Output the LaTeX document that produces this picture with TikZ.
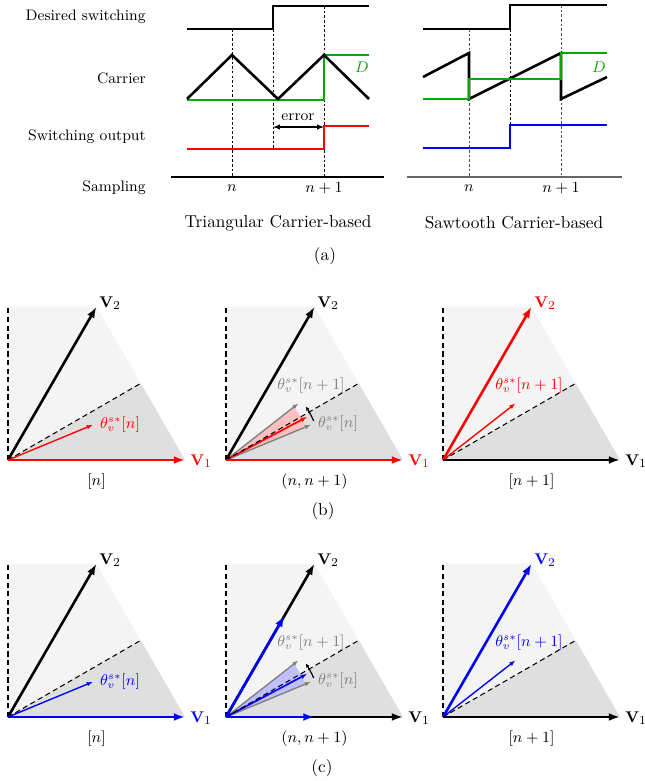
\documentclass[tikz,border=0pt]{standalone}
\usetikzlibrary{arrows.meta,calc}
\definecolor{mygreen}{RGB}{0,170,0}
\definecolor{lightfill}{RGB}{244,244,244}
\definecolor{darkfill}{RGB}{223,223,223}
\newcommand\sectorbg[1]{%
  \coordinate (#1O) at (0,0);
  \coordinate (#1A) at (177,0);
  \coordinate (#1B) at (60:177);
  \coordinate (#1T) at (0,153.3);
  \coordinate (#1M) at (30:153.3);
  \fill[lightfill] (#1O) -- (#1T) -- (#1B) -- (#1A) -- cycle;
  \fill[darkfill] (#1O) -- (#1M) -- (#1A) -- cycle;
  \draw[vdash] (#1O) -- (#1T);
}
\begin{document}
\begin{tikzpicture}[x=0.58pt,y=-0.58pt,
  wave/.style={line width=1.5pt},
  guide/.style={line width=0.5pt, dash pattern=on 1.5pt off 1.2pt},
  lbl/.style={font=\fontsize{8.8}{10}\selectfont, inner sep=0pt},
  captxt/.style={font=\fontsize{10}{12}\selectfont, inner sep=0pt},
  vdash/.style={line width=0.6pt, dash pattern=on 3pt off 2pt},
  varrow/.style={line width=1.5pt, -{Latex[length=6.5pt,width=4.6pt]}},
  tharrow/.style={line width=0.8pt, -{Latex[length=3.6pt,width=2.6pt]}},
  garrow/.style={line width=0.8pt, black!50, -{Latex[length=3.6pt,width=2.6pt]}},
  vlab/.style={font=\fontsize{9.5}{11}\selectfont, inner sep=0pt},
  thlab/.style={font=\fontsize{8.8}{10}\selectfont, inner sep=0pt},
  sublab/.style={font=\fontsize{9.5}{11}\selectfont, inner sep=0pt},
  ticka/.style={line width=0.7pt, -{Latex[length=2.5pt,width=2.2pt]}}
]
\useasboundingbox (0,0) rectangle (644,781);

% ---------------- (a) labels
\node[lbl, anchor=east] (l1) at (146,17) {Desired switching};
\node[lbl, anchor=east] (l2) at (146,78) {Carrier};
\node[lbl, anchor=east] (l3) at (146,137) {Switching output};
\node[lbl, anchor=east] (l4) at (146,188) {Sampling};

% ---------------- (a) left: triangular
\coordinate (ta1) at (232,29); \coordinate (ta2) at (232,177);
\coordinate (tb1) at (273,29); \coordinate (tb2) at (273,150);
\coordinate (tc1) at (324,6);  \coordinate (tc2) at (324,177);
\draw[guide] (ta1) -- (ta2);
\draw[guide] (tb1) -- (tb2);
\draw[guide] (tc1) -- (tc2);
\coordinate (tax1) at (171,177); \coordinate (tax2) at (384,177);
\draw[line width=0.6pt] (tax1) -- (tax2);

\coordinate (d0) at (187,29); \coordinate (d1) at (273,29);
\coordinate (d2) at (273,6);  \coordinate (d3) at (369,6);
\draw[wave] (d0) -- (d1) -- (d2) -- (d3);

\coordinate (g0) at (187,100); \coordinate (g1) at (324,100);
\coordinate (g2) at (324,55);  \coordinate (g3) at (369,55);
\draw[wave, mygreen] (g0) -- (g1) -- (g2) -- (g3);
\coordinate (c0) at (187,99); \coordinate (c1) at (232,55);
\coordinate (c2) at (278,99); \coordinate (c3) at (324,55);
\coordinate (c4) at (369,99);
\draw[wave, line join=miter] (c0) -- (c1) -- (c2) -- (c3) -- (c4);
\node[lbl, mygreen] (dl) at (362,67) {$D$};

\coordinate (r0) at (187,149); \coordinate (r1) at (324,149);
\coordinate (r2) at (324,126); \coordinate (r3) at (369,126);
\draw[wave, red] (r0) -- (r1) -- (r2) -- (r3);

\coordinate (e1) at (273,127); \coordinate (e2) at (324,127);
\draw[line width=0.7pt, {Latex[length=4pt,width=3.2pt]}-{Latex[length=4pt,width=3.2pt]}] (e1) -- (e2);
\node[lbl] (err) at (298,117) {error};

\node[lbl] (tn) at (232,188) {$n$};
\node[lbl] (tn1) at (324,188) {$n+1$};
\node[captxt] (capt) at (278,223) {Triangular Carrier-based};

% ---------------- (a) right: sawtooth
\coordinate (sa1) at (469,29); \coordinate (sa2) at (469,177);
\coordinate (sb1) at (510,29); \coordinate (sb2) at (510,125);
\coordinate (sc1) at (561,5);  \coordinate (sc2) at (561,177);
\draw[guide, black!70] (sa1) -- (sa2);
\draw[guide] (sb1) -- (sb2);
\draw[guide, black!70] (sc1) -- (sc2);
\coordinate (sax1) at (407,177); \coordinate (sax2) at (622,177);
\draw[line width=0.8pt, black!60] (sax1) -- (sax2);

\coordinate (sd0) at (423,29); \coordinate (sd1) at (510,29);
\coordinate (sd2) at (510,5);  \coordinate (sd3) at (607,5);
\draw[wave] (sd0) -- (sd1) -- (sd2) -- (sd3);

\coordinate (s0) at (423,77); \coordinate (s1) at (469,53);
\coordinate (s2) at (469,99); \coordinate (s3) at (561,53);
\coordinate (s4) at (561,99); \coordinate (s5) at (607,77);
\draw[wave] (s0) -- (s1) -- (s2) -- (s3) -- (s4) -- (s5);
\coordinate (sg0) at (423,99); \coordinate (sg1) at (469,99);
\coordinate (sg2) at (469,79); \coordinate (sg3) at (561,79);
\coordinate (sg4) at (561,53); \coordinate (sg5) at (607,53);
\draw[wave, mygreen] (sg0) -- (sg1) -- (sg2) -- (sg3) -- (sg4) -- (sg5);
\node[lbl, mygreen] (sdl) at (599,67) {$D$};

\coordinate (b0) at (423,148); \coordinate (b1) at (510,148);
\coordinate (b2) at (510,125); \coordinate (b3) at (607,125);
\draw[wave, blue] (b0) -- (b1) -- (b2) -- (b3);

\node[lbl] (sn) at (469,188) {$n$};
\node[lbl] (sn1) at (561,188) {$n+1$};
\node[captxt] (caps) at (514,223) {Sawtooth Carrier-based};
\node[captxt] (capa) at (325,256) {(a)};

% ================= (b) row
\begin{scope}[shift={(8,460)},yscale=-1]
  \sectorbg{p1}
  \draw[vdash] (p1O) -- (p1M);
  \coordinate (p1t) at (22.5:92);
  \draw[tharrow, red] (p1O) -- (p1t);
  \draw[varrow] (p1O) -- (p1B);
  \draw[varrow, red] (p1O) -- (p1A);
  \node[vlab, anchor=west] (p1v2) at (91,157) {$\mathbf{V}_2$};
  \node[vlab, anchor=west, red] (p1v1) at (182,-1) {$\mathbf{V}_1$};
  \node[thlab, red] (p1th) at (112,35) {$\theta_v^{s*}[n]$};
  \node[sublab] (p1s) at (88.5,-22) {$[n]$};
\end{scope}

\begin{scope}[shift={(226,460)},yscale=-1]
  \sectorbg{p2}
  \fill[red!25] (p2O) -- (38:86) arc[start angle=38, end angle=22.5, radius=86] -- cycle;
  \coordinate (p2g1) at (38:92);
  \coordinate (p2g2) at (22.5:92);
  \coordinate (p2t) at (28:92);
  \draw[garrow] (p2O) -- (p2g1);
  \draw[garrow] (p2O) -- (p2g2);
  \draw[line width=1pt, red, -{Latex[length=3.8pt,width=2.8pt]}] (p2O) -- (p2t);
  \draw[vdash] (p2O) -- (p2M);
  \draw[ticka] (24:96) arc[start angle=24, end angle=34, radius=96];
  \draw[varrow] (p2O) -- (p2B);
  \draw[varrow, red] (p2O) -- (p2A);
  \node[vlab, anchor=west] (p2v2) at (91,157) {$\mathbf{V}_2$};
  \node[vlab, anchor=west, red] (p2v1) at (182,-1) {$\mathbf{V}_1$};
  \node[thlab, black!50] (p2th1) at (85,74) {$\theta_v^{s*}[n+1]$};
  \node[thlab, black!50] (p2th0) at (112,36) {$\theta_v^{s*}[n]$};
  \node[sublab] (p2s) at (88.5,-22) {$(n,n+1)$};
\end{scope}

\begin{scope}[shift={(443,460)},yscale=-1]
  \sectorbg{p3}
  \draw[vdash] (p3O) -- (p3M);
  \coordinate (p3t) at (38:92);
  \draw[tharrow, red] (p3O) -- (p3t);
  \draw[varrow, red] (p3O) -- (p3B);
  \draw[varrow] (p3O) -- (p3A);
  \node[vlab, anchor=west, red] (p3v2) at (91,157) {$\mathbf{V}_2$};
  \node[vlab, anchor=west] (p3v1) at (182,-1) {$\mathbf{V}_1$};
  \node[thlab, red] (p3th) at (86,74) {$\theta_v^{s*}[n+1]$};
  \node[sublab] (p3s) at (88.5,-22) {$[n+1]$};
\end{scope}
\node[captxt] (capb) at (323,511) {(b)};

% ================= (c) row
\begin{scope}[shift={(8,717)},yscale=-1]
  \sectorbg{q1}
  \draw[vdash] (q1O) -- (q1M);
  \coordinate (q1t) at (22.5:92);
  \draw[tharrow, blue] (q1O) -- (q1t);
  \draw[varrow] (q1O) -- (q1B);
  \draw[varrow, blue] (q1O) -- (q1A);
  \node[vlab, anchor=west] (q1v2) at (91,157) {$\mathbf{V}_2$};
  \node[vlab, anchor=west, blue] (q1v1) at (182,-1) {$\mathbf{V}_1$};
  \node[thlab, blue] (q1th) at (112,35) {$\theta_v^{s*}[n]$};
  \node[sublab] (q1s) at (88.5,-22) {$[n]$};
\end{scope}

\begin{scope}[shift={(226,717)},yscale=-1]
  \sectorbg{q2}
  \fill[blue!25] (q2O) -- (38:86) arc[start angle=38, end angle=22.5, radius=86] -- cycle;
  \coordinate (q2g1) at (38:92);
  \coordinate (q2g2) at (22.5:92);
  \coordinate (q2t) at (28:92);
  \draw[garrow] (q2O) -- (q2g1);
  \draw[garrow] (q2O) -- (q2g2);
  \draw[line width=1pt, blue, -{Latex[length=3.8pt,width=2.8pt]}] (q2O) -- (q2t);
  \draw[vdash] (q2O) -- (q2M);
  \draw[ticka] (24:96) arc[start angle=24, end angle=34, radius=96];
  \draw[varrow] (q2O) -- (q2B);
  \draw[varrow] (q2O) -- (q2A);
  \coordinate (q2h2) at (60:117);
  \coordinate (q2h1) at (88.5,0);
  \draw[varrow, blue] (q2O) -- (q2h2);
  \draw[varrow, blue] (q2O) -- (q2h1);
  \node[vlab, anchor=west] (q2v2) at (91,157) {$\mathbf{V}_2$};
  \node[vlab, anchor=west] (q2v1) at (182,-1) {$\mathbf{V}_1$};
  \node[thlab, black!50] (q2th1) at (85,74) {$\theta_v^{s*}[n+1]$};
  \node[thlab, black!50] (q2th0) at (112,36) {$\theta_v^{s*}[n]$};
  \node[sublab] (q2s) at (88.5,-22) {$(n,n+1)$};
\end{scope}

\begin{scope}[shift={(443,717)},yscale=-1]
  \sectorbg{q3}
  \draw[vdash] (q3O) -- (q3M);
  \coordinate (q3t) at (38:92);
  \draw[tharrow, blue] (q3O) -- (q3t);
  \draw[varrow, blue] (q3O) -- (q3B);
  \draw[varrow] (q3O) -- (q3A);
  \node[vlab, anchor=west, blue] (q3v2) at (91,157) {$\mathbf{V}_2$};
  \node[vlab, anchor=west] (q3v1) at (182,-1) {$\mathbf{V}_1$};
  \node[thlab, blue] (q3th) at (86,74) {$\theta_v^{s*}[n+1]$};
  \node[sublab] (q3s) at (88.5,-22) {$[n+1]$};
\end{scope}
\node[captxt] (capc) at (322,768) {(c)};
\end{tikzpicture}
\end{document}
